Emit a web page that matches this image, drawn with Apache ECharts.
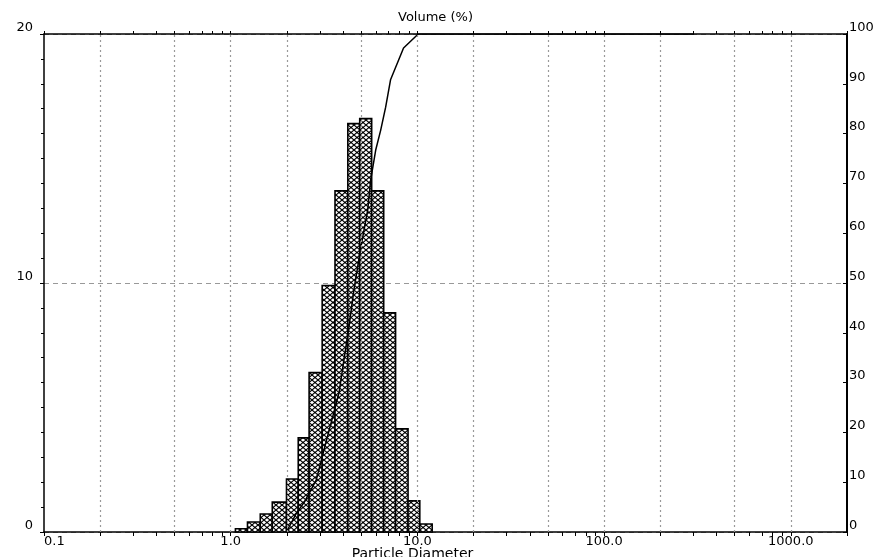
<!DOCTYPE html>
<html>
<head>
<meta charset="utf-8">
<script src="https://cdn.jsdelivr.net/npm/echarts@6/dist/echarts.min.js"></script>
<style>html,body{margin:0;padding:0;background:#fff}#c{width:885px;height:557px}</style>
</head>
<body>
<div id="c"></div>
<script>
// ---- data ----
const binEdges = [1.06, 1.23, 1.44, 1.67, 1.99, 2.30, 2.63, 3.09, 3.62, 4.24, 4.91, 5.69, 6.60, 7.64, 8.91, 10.3, 12.0];
const binVolume = [0.13, 0.40, 0.72, 1.20, 2.13, 3.78, 6.40, 9.90, 13.70, 16.40, 16.60, 13.70, 8.80, 4.14, 1.25, 0.32];
const cumDiameter = [1.99, 2.25, 2.48, 2.87, 3.16, 3.80, 4.04, 4.30, 4.57, 4.98, 5.42, 5.62, 5.98, 6.36, 6.76, 7.18, 8.43, 10.1, 303];
const cumVolume   = [0, 3.8, 6.0, 10.4, 16.5, 27.9, 34.5, 41.2, 48.6, 57.2, 64.7, 70.7, 76.7, 80.7, 85.3, 90.8, 97.2, 100, 100];
const xMin = 0.1, xMax = 2000;
const decades = [0.1, 1, 10, 100, 1000];
const minorMultipliers = [2, 3, 4, 5, 6, 7, 8, 9];
const gridValues = [0.2, 0.5, 1, 2, 5, 10, 20, 50, 100, 200, 500, 1000];

// ---- derived ----
const minorTicks = [];
decades.forEach(d => minorMultipliers.forEach(m => { const v = d * m; if (v <= xMax) minorTicks.push(v); }));
const allTicks = decades.concat(minorTicks);
const lg = v => Math.log10(v);
const barData = binVolume.map((v, i) => [binEdges[i], binEdges[i + 1], v]);
const cumData = cumDiameter.map((d, i) => [d, cumVolume[i]]);

// cross-hatch pattern
const pc = document.createElement('canvas');
pc.width = 6; pc.height = 5;
const g = pc.getContext('2d');
g.fillStyle = '#fff'; g.fillRect(0, 0, 6, 5);
g.strokeStyle = '#000'; g.lineWidth = 1.1;
g.beginPath(); g.moveTo(0, 0); g.lineTo(6, 5); g.moveTo(6, 0); g.lineTo(0, 5); g.stroke();
const hatch = { image: pc, repeat: 'repeat' };

const FONT = 'DejaVu Sans';
const chart = echarts.init(document.getElementById('c'), null, { renderer: 'canvas' });
chart.setOption({
  backgroundColor: '#fff',
  animation: false,
  grid: { left: 44, right: 38, top: 34, bottom: 25, containLabel: false, outerBoundsMode: 'none' },
  xAxis: [
    { // data axis (log)
      type: 'log', logBase: 10, min: xMin, max: xMax, position: 'bottom',
      axisLine: { show: true, onZero: false, lineStyle: { color: '#000', width: 1.5 } },
      axisTick: { show: true, length: 4, lineStyle: { color: '#000' } },
      axisLabel: { show: true, color: '#000', fontFamily: FONT, fontSize: 13, margin: 3,
        showMaxLabel: false, alignMinLabel: 'left', formatter: v => Number(v).toFixed(1) },
      splitLine: { show: false },
      name: 'Particle Diameter', nameLocation: 'middle', nameGap: 15, nameMoveOverlap: false,
      nameTextStyle: { color: '#000', fontFamily: FONT, fontSize: 14, padding: [0, 66, 0, 0] }
    },
    { // bottom minor ticks
      type: 'value', min: lg(xMin), max: lg(xMax), position: 'bottom',
      axisLine: { show: false, onZero: false },
      axisTick: { show: true, length: 4, customValues: minorTicks.map(lg), lineStyle: { color: '#000' } },
      axisLabel: { show: false }, splitLine: { show: false }
    },
    { // top frame with ticks
      type: 'value', min: lg(xMin), max: lg(xMax), position: 'top',
      axisLine: { show: true, onZero: false, lineStyle: { color: '#000', width: 1.5 } },
      axisTick: { show: true, length: 3, customValues: allTicks.map(lg), lineStyle: { color: '#000' } },
      axisLabel: { show: false }, splitLine: { show: false },
      name: 'Volume (%)', nameLocation: 'middle', nameGap: 10,
      nameTextStyle: { color: '#000', fontFamily: FONT, fontSize: 13, padding: [0, 20, 0, 0] }
    }
  ],
  yAxis: [
    {
      type: 'value', min: 0, max: 20, interval: 10, position: 'left',
      axisLine: { show: true, onZero: false, lineStyle: { color: '#000', width: 1.5 } },
      axisTick: { show: true, length: 4, lineStyle: { color: '#000' } },
      minorTick: { show: true, splitNumber: 10, length: 3, lineStyle: { color: '#000' } },
      axisLabel: { color: '#000', fontFamily: FONT, fontSize: 13, margin: 11, verticalAlign: 'bottom' },
      splitLine: { show: true, lineStyle: { color: '#999', type: [5, 4], width: 1 } }
    },
    {
      type: 'value', min: 0, max: 100, interval: 10, position: 'right',
      axisLine: { show: true, onZero: false, lineStyle: { color: '#000', width: 2 } },
      axisTick: { show: true, inside: true, length: 4, lineStyle: { color: '#000' } },
      axisLabel: { color: '#000', fontFamily: FONT, fontSize: 13, margin: 2, verticalAlign: 'bottom' },
      splitLine: { show: false }
    }
  ],
  series: [
    {
      type: 'line', xAxisIndex: 0, yAxisIndex: 0, data: [], z: 1, silent: true,
      markLine: {
        silent: true, symbol: 'none', label: { show: false },
        lineStyle: { color: '#999', type: [2, 3], width: 1.2 },
        data: gridValues.map(v => ({ xAxis: v }))
      }
    },
    {
      type: 'custom', xAxisIndex: 0, yAxisIndex: 0, z: 3,
      data: barData,
      encode: { x: [0, 1], y: 2 },
      renderItem: function (params, api) {
        const p0 = api.coord([api.value(0), api.value(2)]);
        const p1 = api.coord([api.value(1), 0]);
        return {
          type: 'rect',
          shape: { x: p0[0], y: p0[1], width: p1[0] - p0[0], height: p1[1] - p0[1] },
          style: { fill: hatch, stroke: '#000', lineWidth: 1.6 }
        };
      }
    },
    {
      type: 'line', xAxisIndex: 0, yAxisIndex: 1, z: 4,
      data: cumData, symbol: 'none', smooth: false,
      lineStyle: { color: '#000', width: 1.5 }
    }
  ]
});
</script>
</body>
</html>
